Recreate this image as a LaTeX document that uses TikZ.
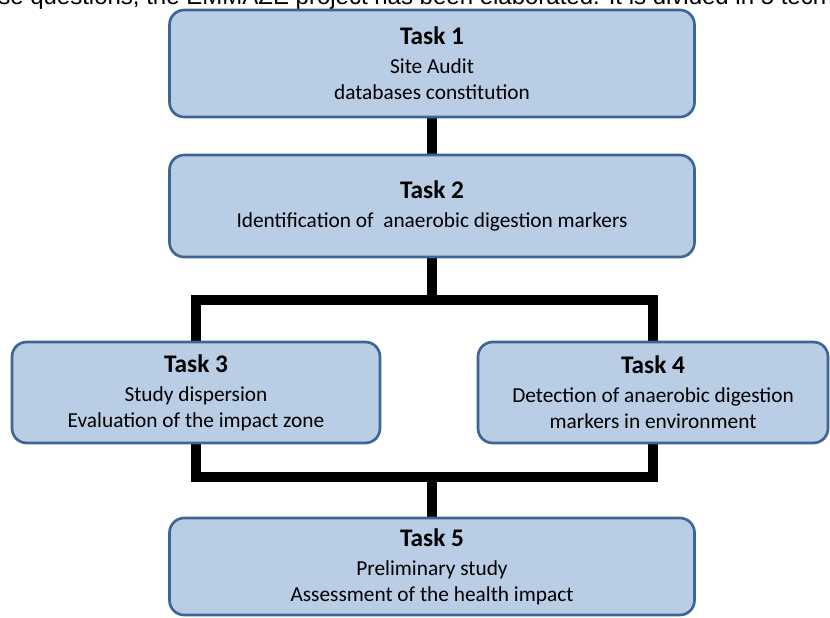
\documentclass[tikz,border=0pt]{standalone}
\usepackage{fontspec}
\setmainfont{Carlito}
\newfontfamily\introfont{Liberation Sans}
\usetikzlibrary{backgrounds}

\definecolor{taskfill}{HTML}{B9CDE5}
\definecolor{taskline}{HTML}{3F6592}

\newcommand{\tasktitle}[1]{{\fontsize{19pt}{19.5pt}\selectfont\bfseries #1}\\[2pt]}

\tikzset{
  taskbox/.style={draw=taskline, fill=taskfill, line width=2pt,
    rounded corners=11pt, align=center, inner sep=0pt,
    font=\fontsize{16pt}{19.5pt}\selectfont},
  link/.style={line width=7.5pt, line join=miter, line cap=butt}
}

\begin{document}
\begin{tikzpicture}[x=0.75pt,y=-0.75pt]

  \useasboundingbox (0,0) rectangle (830,617);
  \clip (0,0) rectangle (830,617);

  % Cut line of text above the chart
  \node[anchor=base west, inner sep=0pt, font=\introfont\fontsize{18pt}{20pt}\selectfont]
    (intro) at (-2,5) {se questions, the EMMAZE project has been elaborated. It is divided in 5 tech};

  % Tasks
  \node[taskbox, minimum width=393.75pt, minimum height=80.25pt] (t1) at (432,63.5)
    {\tasktitle{Task 1}Site Audit\\databases constitution};
  \node[taskbox, minimum width=393.75pt, minimum height=76.5pt] (t2) at (432,206)
    {\tasktitle{Task 2}Identification of\ \ anaerobic digestion markers};
  \node[taskbox, minimum width=276pt, minimum height=75.75pt] (t3) at (196,392.5)
    {\tasktitle{Task 3}Study dispersion\\Evaluation of the impact zone};
  \node[taskbox, minimum width=262.5pt, minimum height=75.75pt] (t4) at (653,392.5)
    {\tasktitle{Task 4}Detection of anaerobic digestion\\markers in environment};
  \node[taskbox, minimum width=393.75pt, minimum height=72.75pt] (t5) at (432,566.5)
    {\tasktitle{Task 5}Preliminary study\\Assessment of the health impact};

  % Split and join points
  \coordinate (split) at (t2.south |- 0,300);
  \coordinate (join) at (t2.south |- 0,477);

  % Connectors
  \begin{scope}[on background layer]
    \draw[link] (t1.south) -- (t2.north);
    \draw[link] (t2.south) -- (split);
    \draw[link] (t3.north) |- (split) -| (t4.north);
    \draw[link] (t3.south) |- (join) -| (t4.south);
    \draw[link] (join) -- (t5.north);
  \end{scope}

\end{tikzpicture}
\end{document}
